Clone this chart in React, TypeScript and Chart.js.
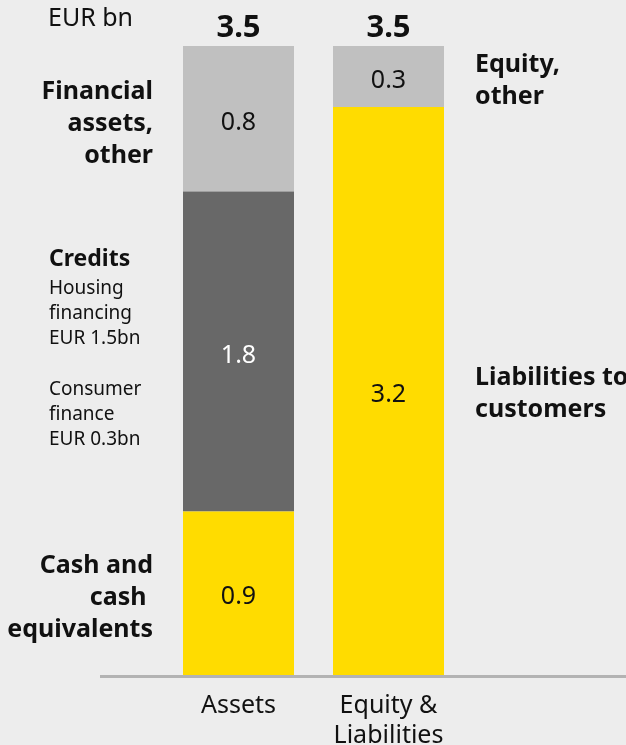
import React, { useEffect, useRef } from "react";
import { Chart, registerables } from "chart.js";

Chart.register(...registerables);

// ---- data ----
const categories = [["Assets"], ["Equity &", "Liabilities"]];
const bottomValues = [0.91, 3.16]; // cash & equivalents | liabilities to customers
const middleValues = [1.78, null]; // credits | –
const topValues = [0.81, 0.34]; // financial assets, other | equity, other
const totals = [3.5, 3.5];
const unitLabel = "EUR bn";

const cashLabel = ["Cash and", "cash ", "equivalents"];
const financialLabel = ["Financial", "assets,", "other"];
const creditsTitle = "Credits";
const creditsLines = ["Housing", "financing", "EUR 1.5bn", "", "Consumer", "finance", "EUR 0.3bn"];
const equityLabel = ["Equity,", "other"];
const liabilitiesLabel = ["Liabilities to", "customers"];

// ---- style ----
const FONT = "'Noto Sans', sans-serif";
const YELLOW = "#ffdc00";
const DARK = "#686868";
const LIGHT = "#c0c0c0";
const BG = "#ededed";
const TEXT = "#111111";
const DY = 3; // vertical glyph correction

const overlay = {
  id: "overlay",
  beforeDatasetsDraw(chart: any) {
    const ctx = chart.ctx;
    const y0 = chart.scales.y.getPixelForValue(0);
    ctx.save();
    ctx.strokeStyle = "#b3b3b3";
    ctx.lineWidth = 3;
    ctx.beginPath();
    ctx.moveTo(100, y0 + 1.5);
    ctx.lineTo(chart.width, y0 + 1.5);
    ctx.stroke();
    ctx.restore();
  },
  afterDatasetsDraw(chart: any) {
    const ctx = chart.ctx;
    const ys = chart.scales.y;
    const xs = chart.scales.x;
    ctx.save();
    ctx.textAlign = "center";
    ctx.textBaseline = "middle";
    // segment values
    chart.data.datasets.forEach((ds: any, i: number) => {
      const meta = chart.getDatasetMeta(i);
      meta.data.forEach((bar: any, j: number) => {
        const v = ds.data[j];
        if (v == null) return;
        const p = bar.getProps(["x", "y", "base"], true);
        ctx.font = `400 25px ${FONT}`;
        ctx.fillStyle = ds.labelColor;
        ctx.fillText(v.toFixed(1), p.x, (p.y + p.base) / 2 + 1 + DY);
      });
    });
    // totals
    totals.forEach((t, j) => {
      ctx.font = `700 31px ${FONT}`;
      ctx.fillStyle = TEXT;
      ctx.fillText(t.toFixed(1), xs.getPixelForValue(j), ys.getPixelForValue(t) - 21 + DY);
    });
    // unit
    ctx.font = `400 25px ${FONT}`;
    ctx.textAlign = "left";
    ctx.fillText(unitLabel, 48, ys.getPixelForValue(totals[0]) - 30 + DY);

    const segCenter = (dsIndex: number, j: number) =>
      chart.getDatasetMeta(dsIndex).data[j].getProps(["x", "y", "base", "width"], true);
    const drawLines = (lines: string[], x: number, cy: number, step: number) => {
      const start = cy - ((lines.length - 1) * step) / 2;
      lines.forEach((l, k) => ctx.fillText(l, x, start + k * step + DY));
    };

    // left annotations (assets)
    ctx.font = `700 25px ${FONT}`;
    ctx.textAlign = "right";
    let p = segCenter(0, 0);
    drawLines(cashLabel, p.x - p.width / 2 - 30, (p.y + p.base) / 2 + 2, 32);
    p = segCenter(2, 0);
    drawLines(financialLabel, p.x - p.width / 2 - 30, (p.y + p.base) / 2 + 2, 32);

    p = segCenter(1, 0);
    const cc = (p.y + p.base) / 2 + DY;
    ctx.textAlign = "left";
    ctx.font = `700 23px ${FONT}`;
    ctx.fillText(creditsTitle, 49, cc - 95);
    ctx.font = `400 19px ${FONT}`;
    creditsLines.forEach((l, k) => ctx.fillText(l, 49, cc - 66 + k * 25.2));

    // right annotations (equity & liabilities)
    ctx.font = `700 25px ${FONT}`;
    p = segCenter(2, 1);
    drawLines(equityLabel, p.x + p.width / 2 + 31, (p.y + p.base) / 2 + 1, 32);
    p = segCenter(0, 1);
    drawLines(liabilitiesLabel, p.x + p.width / 2 + 31, (p.y + p.base) / 2, 32);
    ctx.restore();
  },
};

export default function App() {
  const ref = useRef<HTMLCanvasElement>(null);
  useEffect(() => {
    const chart = new Chart(ref.current!, {
      type: "bar",
      data: {
        labels: categories as any,
        datasets: [
          { data: bottomValues, backgroundColor: YELLOW, labelColor: "#111111" } as any,
          { data: middleValues, backgroundColor: DARK, labelColor: "#ffffff" } as any,
          { data: topValues, backgroundColor: LIGHT, labelColor: "#111111" } as any,
        ],
      },
      options: {
        responsive: false,
        animation: false,
        devicePixelRatio: 1,
        datasets: { bar: { barPercentage: 0.74, categoryPercentage: 1, borderWidth: 0 } },
        layout: { padding: { top: 46, left: 163.5, right: 162.5, bottom: 0 } },
        plugins: { legend: { display: false }, tooltip: { enabled: false }, title: { display: false } },
        scales: {
          x: {
            stacked: true,
            grid: { display: false, drawTicks: false },
            border: { display: false },
            ticks: { color: TEXT, font: { family: FONT, size: 25 }, padding: 16, maxRotation: 0, autoSkip: false },
            afterFit: (s: any) => {
              s.height = 70;
            },
          },
          y: { stacked: true, display: false, min: 0, max: 3.5 },
        },
      },
      plugins: [overlay],
    });
    return () => chart.destroy();
  }, []);
  return (
    <div style={{ position: "absolute", left: 0, top: 0, width: 626, height: 745, background: BG, overflow: "hidden" }}>
      <canvas ref={ref} width={626} height={745} style={{ display: "block" }} />
    </div>
  );
}
